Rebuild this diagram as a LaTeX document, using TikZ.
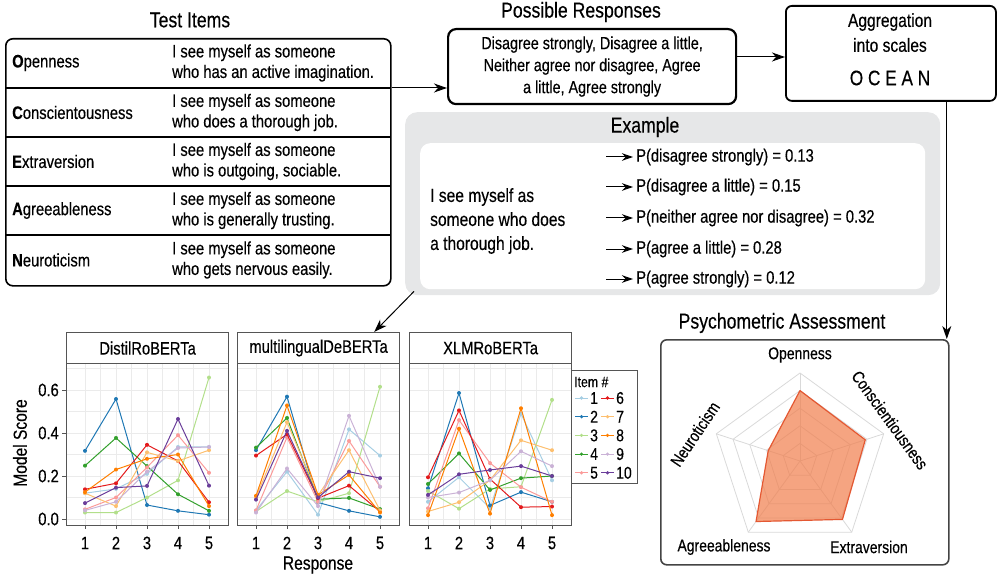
\documentclass[tikz,border=0pt]{standalone}
\usepackage{fontspec}
\setmainfont{Liberation Sans}[FakeStretch=0.82,FakeBold=0.35]
\usetikzlibrary{arrows.meta,calc}
\definecolor{c1}{HTML}{A6CEE3}
\definecolor{c2}{HTML}{1F78B4}
\definecolor{c3}{HTML}{B2DF8A}
\definecolor{c4}{HTML}{33A02C}
\definecolor{c5}{HTML}{FB9A99}
\definecolor{c6}{HTML}{E31A1C}
\definecolor{c7}{HTML}{FDBF6F}
\definecolor{c8}{HTML}{FF7F00}
\definecolor{c9}{HTML}{CAB2D6}
\definecolor{c10}{HTML}{6A3D9A}
\definecolor{exgray}{HTML}{E6E7E8}
\definecolor{gridc}{HTML}{EBEBEB}
\definecolor{panelc}{HTML}{555555}
\definecolor{radarfill}{RGB}{241,126,76}
\definecolor{radarline}{RGB}{228,88,50}
\definecolor{radargrid}{HTML}{D9D9D9}
\newcommand\myTitleFont{\fontsize{21.5}{24}\selectfont}
\newcommand\myBodyFont{\fontsize{18}{20.5}\selectfont}
\newcommand\myRespFont{\fontsize{17.5}{22}\selectfont}
\newcommand\myPlotFont{\fontsize{18}{20}\selectfont}
\begin{document}
\begin{tikzpicture}[x=1pt,y=-1pt,
  arr/.style={-{Stealth[length=13pt,width=9pt,inset=4pt]}, line width=1pt},
  smallarr/.style={-{Stealth[length=11pt,width=7.5pt,inset=3.5pt]}, line width=1pt},
  ttl/.style={font=\myTitleFont, inner sep=0pt},
  txt/.style={font=\myBodyFont, inner sep=0pt, anchor=west, align=left},
  bx/.style={draw, anchor=north west, inner sep=0pt},
  strip/.style={draw=panelc, line width=1.2pt, anchor=north west, minimum width=162pt, minimum height=31pt, inner sep=0pt, font=\myPlotFont},
  panel/.style={draw=panelc, line width=1.2pt, anchor=north west, minimum width=162pt, minimum height=162pt, inner sep=0pt},
  ticklab/.style={font=\myPlotFont, inner sep=0pt},
  radlab/.style={font=\fontsize{17}{19}\selectfont, inner sep=0pt}
]
\useasboundingbox (0,0) rectangle (1000,577);

% ---------------- Test items ----------------
\node[ttl] (tItems) at (190,20) {Test Items};
\node[bx, line width=1.6pt, rounded corners=7pt, minimum width=385pt, minimum height=247pt] (items) at (5,38) {};
\foreach \yy in {88,137,186,235} \draw[line width=1.3pt] (5,\yy) -- (390,\yy);
\node[txt] (lO) at (12,63) {\textbf{O}penness};
\node[txt] (lC) at (12,112.5) {\textbf{C}onscientousness};
\node[txt] (lE) at (12,161.5) {\textbf{E}xtraversion};
\node[txt] (lA) at (12,210.5) {\textbf{A}greeableness};
\node[txt] (lN) at (12,260) {\textbf{N}euroticism};
\node[txt] (sO) at (172,63) {I see myself as someone\\who has an active imagination.};
\node[txt] (sC) at (172,112.5) {I see myself as someone\\who does a thorough job.};
\node[txt] (sE) at (172,161.5) {I see myself as someone\\who is outgoing, sociable.};
\node[txt] (sA) at (172,210.5) {I see myself as someone\\who is generally trusting.};
\node[txt] (sN) at (172,260) {I see myself as someone\\who gets nervous easily.};

% ---------------- Possible responses ----------------
\node[ttl] (tResp) at (581,12) {Possible Responses};
\node[bx, line width=2.2pt, rounded corners=8pt, minimum width=288pt, minimum height=75pt, align=center, font=\myRespFont] (resp) at (447,28) {Disagree strongly, Disagree a little,\\Neither agree nor disagree, Agree\\a little, Agree strongly};
\coordinate (itemsOut) at ($(items.north east)+(0,50)$);
\draw[arr] (itemsOut) -- (resp.west |- itemsOut);

% ---------------- OCEAN ----------------
\node[bx, line width=1.8pt, rounded corners=6pt, minimum width=210pt, minimum height=95pt] (ocean) at (785,5) {};
\node[ttl, font=\fontsize{19}{21}\selectfont] (ag) at (890,22) {Aggregation};
\node[ttl, font=\fontsize{19}{21}\selectfont] (isc) at (890,45) {into scales};
\node[ttl, font=\fontsize{21}{24}\selectfont] (oc) at (890,78) {O C E A N};
\coordinate (respOut) at ($(resp.north east)+(0,29)$);
\draw[arr] (respOut) -- (ocean.west |- respOut);

% ---------------- Example ----------------
\node[bx, draw=none, fill=exgray, rounded corners=12pt, minimum width=535pt, minimum height=183pt] (ex) at (405,112) {};
\node[ttl] (tEx) at (645,127) {Example};
\node[bx, draw=none, fill=white, rounded corners=10pt, minimum width=505pt, minimum height=146pt] (exin) at (420,143) {};
\node[txt, font=\fontsize{19}{24}\selectfont] (exq) at (430,221) {I see myself as\\someone who does\\a thorough job.};
\foreach \i/\yy/\t in {1/157/{P(disagree strongly) = 0.13},
                      2/187/{P(disagree a little) = 0.15},
                      3/218/{P(neither agree nor disagree) = 0.32},
                      4/249/{P(agree a little) = 0.28},
                      5/279/{P(agree strongly) = 0.12}}{
  \node[txt, inner xsep=3pt] (p\i) at (633,\yy) {\t};
  \coordinate (a\i) at (606,\yy);
  \draw[smallarr] (a\i) -- (p\i.west);
}

% ---------------- Plots ----------------
\foreach \k/\L/\nm in {1/66/DistilRoBERTa, 2/237/multilingualDeBERTa, 3/409/XLMRoBERTa}{
  \node[strip] (strip\k) at (\L,332) {\nm};
  \begin{scope}[shift={(\L+19-31,519)}, x=31pt, y=215pt]
    \foreach \v in {0.1,0.3,0.5,0.7} \draw[gridc, line width=0.5pt] (0.39,\v) -- (5.61,\v);
    \foreach \u in {1.5,2.5,3.5,4.5} \draw[gridc, line width=0.5pt] (\u,-0.027) -- (\u,0.725);
    \foreach \v in {0,0.2,0.4,0.6} \draw[gridc, line width=1pt] (0.39,\v) -- (5.61,\v);
    \foreach \u in {1,...,5} {
      \draw[gridc, line width=1pt] (\u,-0.027) -- (\u,0.725);
      \draw[panelc, line width=1pt] (\u,-0.028) -- ++(0,-4pt);
      \node[ticklab] (xt\k\u) at ([yshift=-18pt]\u,-0.028) {\u};
    }
  \end{scope}
}
\newcommand\series[7]{%
  \begin{scope}[shift={(#1+19-31,519)}, x=31pt, y=215pt]
    \draw[#2, line width=1pt] (1,#3) -- (2,#4) -- (3,#5) -- (4,#6) -- (5,#7);
    \foreach \pt in {(1,#3),(2,#4),(3,#5),(4,#6),(5,#7)} \fill[#2] \pt circle[radius=2pt];
  \end{scope}}
% panel 1
\series{66}{c1}{0.12}{0.14}{0.21}{0.335}{0.335}
\series{66}{c2}{0.317}{0.558}{0.065}{0.038}{0.02}
\series{66}{c3}{0.03}{0.03}{0.10}{0.18}{0.658}
\series{66}{c4}{0.248}{0.377}{0.246}{0.115}{0.038}
\series{66}{c5}{0.045}{0.10}{0.24}{0.39}{0.215}
\series{66}{c6}{0.138}{0.166}{0.345}{0.27}{0.078}
\series{66}{c7}{0.12}{0.06}{0.31}{0.27}{0.32}
\series{66}{c8}{0.125}{0.23}{0.28}{0.30}{0.06}
\series{66}{c9}{0.04}{0.08}{0.22}{0.33}{0.335}
\series{66}{c10}{0.074}{0.146}{0.154}{0.465}{0.155}
% panel 2
\series{237}{c1}{0.04}{0.22}{0.02}{0.417}{0.295}
\series{237}{c2}{0.32}{0.569}{0.077}{0.038}{0.01}
\series{237}{c3}{0.035}{0.13}{0.08}{0.12}{0.615}
\series{237}{c4}{0.332}{0.47}{0.092}{0.098}{0.046}
\series{237}{c5}{0.04}{0.38}{0.08}{0.363}{0.15}
\series{237}{c6}{0.295}{0.394}{0.097}{0.155}{0.035}
\series{237}{c7}{0.10}{0.45}{0.11}{0.32}{0.04}
\series{237}{c8}{0.108}{0.528}{0.112}{0.205}{0.03}
\series{237}{c9}{0.03}{0.235}{0.06}{0.48}{0.15}
\series{237}{c10}{0.09}{0.41}{0.10}{0.22}{0.19}
% panel 3
\series{409}{c1}{0.08}{0.194}{0.05}{0.49}{0.18}
\series{409}{c2}{0.143}{0.586}{0.063}{0.125}{0.08}
\series{409}{c3}{0.13}{0.048}{0.14}{0.15}{0.554}
\series{409}{c4}{0.163}{0.305}{0.135}{0.19}{0.2}
\series{409}{c5}{0.05}{0.46}{0.26}{0.148}{0.08}
\series{409}{c6}{0.194}{0.505}{0.186}{0.055}{0.058}
\series{409}{c7}{0.035}{0.078}{0.18}{0.366}{0.32}
\series{409}{c8}{0.018}{0.42}{0.025}{0.515}{0.018}
\series{409}{c9}{0.10}{0.123}{0.18}{0.315}{0.246}
\series{409}{c10}{0.112}{0.208}{0.228}{0.246}{0.2}
% panel borders
\node[panel] (panel1) at (66,363) {};
\node[panel] (panel2) at (237,363) {};
\node[panel] (panel3) at (409,363) {};
% y axis of panel 1
\foreach \v/\lab in {0/0.0,0.2/0.2,0.4/0.4,0.6/0.6}{
  \draw[panelc, line width=1pt] (66,519-215*\v) -- (62,519-215*\v);
  \node[ticklab, anchor=east] at (59,519-215*\v) {\lab};
}
\node[ticklab, font=\fontsize{19}{21}\selectfont, rotate=90] (ylab) at (20,443) {Model Score};
\node[ticklab, font=\fontsize{19}{21}\selectfont] (xlab) at (318,565) {Response};

% legend
\node[draw=panelc, line width=1pt, anchor=north west, minimum width=66pt, minimum height=113pt, inner sep=0pt] (leg) at (571,370) {};
\node[ticklab, anchor=west, font=\fontsize{15}{17}\selectfont] (legt) at (574,382) {Item \#};
\foreach \r in {1,...,5}{
  \pgfmathsetmacro\yy{398+18.7*(\r-1)}
  \pgfmathtruncatemacro\rr{\r+5}
  \draw[c\r, line width=1pt] (575,\yy) -- (588,\yy);
  \fill[c\r] (581.5,\yy) circle[radius=1.8pt];
  \node[ticklab, anchor=west, font=\fontsize{17}{19}\selectfont] at (590,\yy) {\r};
  \draw[c\rr, line width=1pt] (601,\yy) -- (614,\yy);
  \fill[c\rr] (607.5,\yy) circle[radius=1.8pt];
  \node[ticklab, anchor=west, font=\fontsize{17}{19}\selectfont] at (616,\yy) {\rr};
}

% arrow example -> plots
\draw[arr] ($(ex.south west)+(9,-4)$) -- ($(strip2.north east)+(-26,0)$);

% ---------------- Psychometric assessment ----------------
\node[ttl] (tPsy) at (782,323) {Psychometric Assessment};
\node[bx, draw=panelc!80!black, line width=1.6pt, rounded corners=6pt, minimum width=288pt, minimum height=225pt] (psych) at (660,339) {};
\coordinate (oceanOut) at ($(ocean.south east)+(-50,0)$);
\draw[arr] (oceanOut) -- (oceanOut |- psych.north);
\begin{scope}[shift={(800,461)}, x=1pt, y=1pt]
  \foreach \f in {17.6,35.2,52.8,70.4,88}
    \draw[radargrid, line width=0.8pt] (90:\f) -- (18:\f) -- (-54:\f) -- (-126:\f) -- (162:\f) -- cycle;
  \foreach \a in {90,18,-54,-126,162} \draw[radargrid, line width=0.8pt] (0,0) -- (\a:88);
  \fill[radarfill, opacity=0.7] (90:70.4) -- (18:68.6) -- (-54:72.2) -- (-126:74.8) -- (162:33.4) -- cycle;
  \draw[radarline, line width=1.2pt, line join=round] (90:70.4) -- (18:68.6) -- (-54:72.2) -- (-126:74.8) -- (162:33.4) -- cycle;
\end{scope}
\node[radlab] (rO) at (800,355) {Openness};
\node[radlab, rotate=-54] (rC) at (890,420) {Conscientiousness};
\node[radlab, rotate=56] (rN) at (695,434) {Neuroticism};
\node[radlab] (rA) at (724,547) {Agreeableness};
\node[radlab] (rE) at (869,547) {Extraversion};
\end{tikzpicture}
\end{document}
